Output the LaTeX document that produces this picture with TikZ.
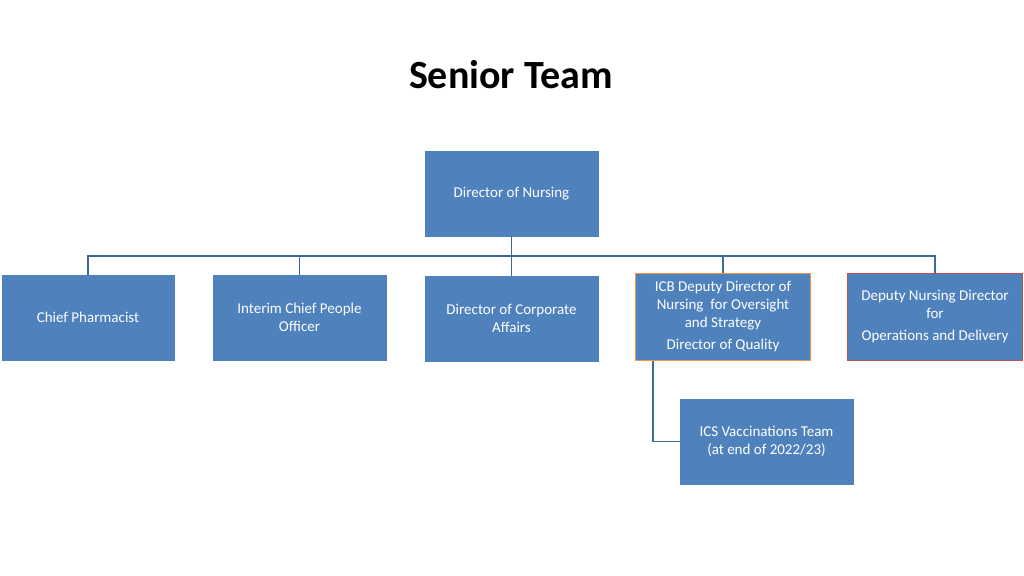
\documentclass[tikz,border=0pt]{standalone}
\usepackage{fontspec}
\setmainfont{Carlito}
\definecolor{boxblue}{HTML}{4F81BD}
\definecolor{lineblue}{HTML}{3A6A9E}
\definecolor{edgeorange}{HTML}{F79646}
\definecolor{edgered}{HTML}{C0504D}
\tikzset{
  post/.style={draw=boxblue, fill=boxblue, text=white, minimum width=173pt, minimum height=85pt, align=center, font=\fontsize{15pt}{18pt}\selectfont, inner sep=2pt},
  link/.style={draw=lineblue, line width=1.5pt}
}
\begin{document}
\begin{tikzpicture}[x=1pt, y=-1pt]
\useasboundingbox (0,0) rectangle (1024,575);
\node[font=\bfseries\fontsize{40pt}{48pt}\selectfont] (title) at (511,75) {Senior Team};
\node[post] (dir) at (511.5,193.5) {Director of Nursing};
\node[post, minimum width=172pt] (pharm) at (88,317.5) {Chief Pharmacist};
\node[post] (people) at (299.5,317.5) {Interim Chief People\\Officer};
\node[post] (corp) at (511.5,318.5) {Director of Corporate\\Affairs};
\node[post, draw=edgeorange, line width=1.5pt, minimum width=175pt, minimum height=87pt] (icb) at (723,317) {ICB Deputy Director of\\Nursing\ \ for Oversight\\and Strategy\\[4pt]Director of Quality};
\node[post, draw=edgered, line width=1.5pt, minimum width=175pt, minimum height=87pt] (dep) at (935,317) {Deputy Nursing Director\\for\\[4pt]Operations and Delivery};
\node[post] (ics) at (766.5,441.5) {ICS Vaccinations Team\\(at end of 2022/23)};
\coordinate (bus) at (511.5,256);
\draw[link] (dir.south) -- (corp.north);
\draw[link] (pharm.north) |- (bus) -| (dep.north);
\draw[link] (people.north) -- (people.north |- bus);
\draw[link] (icb.north) -- (icb.north |- bus);
\draw[link] ([xshift=-70pt]icb.south) |- (ics.west);
\end{tikzpicture}
\end{document}
